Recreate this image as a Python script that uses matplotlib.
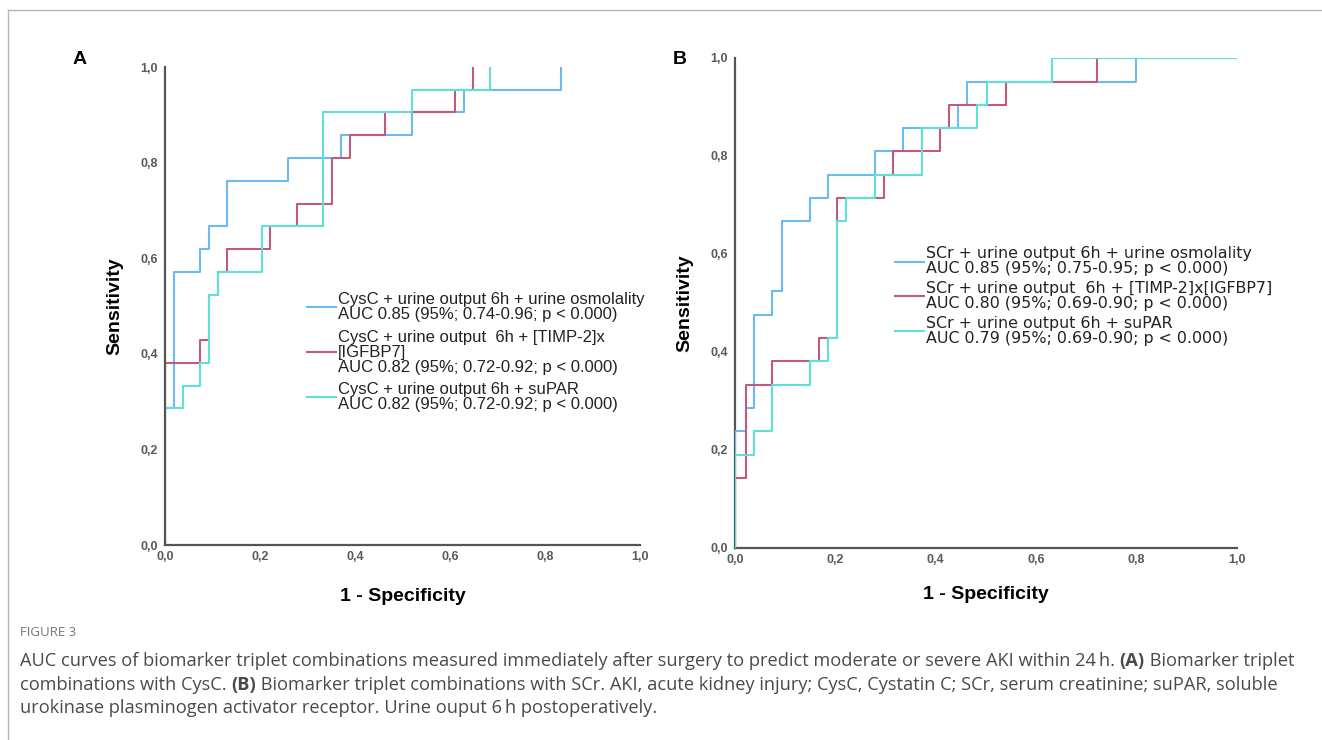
import matplotlib
matplotlib.use("Agg")
import matplotlib.pyplot as plt
from matplotlib.lines import Line2D

# ROC corner points (1 - specificity, sensitivity)
# panel A - CysC combinations
a_osm_x = [0, 0, 0.019, 0.074, 0.093, 0.130, 0.259, 0.370, 0.519, 0.630, 0.833]
a_osm_y = [0, 0.286, 0.571, 0.619, 0.667, 0.762, 0.810, 0.857, 0.905, 0.952, 1.0]
a_timp_x = [0, 0, 0.074, 0.093, 0.111, 0.130, 0.222, 0.278, 0.352, 0.389, 0.463, 0.611, 0.648]
a_timp_y = [0, 0.381, 0.429, 0.524, 0.571, 0.619, 0.667, 0.714, 0.810, 0.857, 0.905, 0.952, 1.0]
a_supar_x = [0, 0, 0.037, 0.074, 0.093, 0.111, 0.204, 0.333, 0.519, 0.685]
a_supar_y = [0, 0.286, 0.333, 0.381, 0.524, 0.571, 0.667, 0.905, 0.952, 1.0]

# panel B - SCr combinations
b_osm_x = [0, 0, 0.021, 0.037, 0.073, 0.094, 0.149, 0.186, 0.279, 0.334, 0.445, 0.463, 0.799, 1.0]
b_osm_y = [0, 0.238, 0.286, 0.476, 0.524, 0.667, 0.714, 0.762, 0.810, 0.857, 0.905, 0.952, 1.0, 1.0]
b_timp_x = [0, 0, 0.021, 0.073, 0.168, 0.203, 0.297, 0.315, 0.408, 0.427, 0.540, 0.722, 1.0]
b_timp_y = [0, 0.143, 0.333, 0.381, 0.429, 0.714, 0.762, 0.810, 0.857, 0.905, 0.952, 1.0, 1.0]
b_supar_x = [0, 0, 0.037, 0.073, 0.149, 0.185, 0.203, 0.222, 0.279, 0.372, 0.483, 0.501, 0.631, 1.0]
b_supar_y = [0, 0.190, 0.238, 0.333, 0.381, 0.429, 0.667, 0.714, 0.762, 0.857, 0.905, 0.952, 1.0, 1.0]

a_labels = ["CysC + urine output 6h + urine osmolality\nAUC 0.85 (95%; 0.74-0.96; p < 0.000)",
            "CysC + urine output  6h + [TIMP-2]x\n[IGFBP7]\nAUC 0.82 (95%; 0.72-0.92; p < 0.000)",
            "CysC + urine output 6h + suPAR\nAUC 0.82 (95%; 0.72-0.92; p < 0.000)"]
b_labels = ["SCr + urine output 6h + urine osmolality\nAUC 0.85 (95%; 0.75-0.95; p < 0.000)",
            "SCr + urine output  6h + [TIMP-2]x[IGFBP7]\nAUC 0.80 (95%; 0.69-0.90; p < 0.000)",
            "SCr + urine output 6h + suPAR\nAUC 0.79 (95%; 0.69-0.90; p < 0.000)"]

ticks = [0, 0.2, 0.4, 0.6, 0.8, 1.0]
tick_labels = ["0,0", "0,2", "0,4", "0,6", "0,8", "1,0"]

colors = ["#6cbaf2", "#c25a80", "#5fe0d8"]

fig = plt.figure(figsize=(13.22, 7.40), dpi=100)

# figure frame (top + left edge)
fig.add_artist(Line2D([8/1322, 1.0], [1-10/740, 1-10/740], color="#b5b5b5", lw=1))
fig.add_artist(Line2D([8/1322, 8/1322], [0, 1-10/740], color="#b5b5b5", lw=1))

axA = fig.add_axes([165/1322, 1-545/740, 475/1322, 478/740])
axB = fig.add_axes([735/1322, 1-548/740, 502/1322, 490/740])

# ax, curves, labels, legend font, size, anchor, handle length, label spacing, xlabel pad, spine zorder
panels = [
    (axA, [(a_osm_x, a_osm_y), (a_timp_x, a_timp_y), (a_supar_x, a_supar_y)], a_labels,
     "Liberation Sans", 12, (0.298, 0.529), 1.75, 0.45, 18, 2.5),
    (axB, [(b_osm_x, b_osm_y), (b_timp_x, b_timp_y), (b_supar_x, b_supar_y)], b_labels,
     "DejaVu Sans", 11.4, (0.318, 0.616), 1.85, 0.3, 15, 1.5),
]

for ax, curves, labels, lfont, lsize, lpos, hl, lsp, xpad, spine_z in panels:
    for (x, y), c, lab in zip(curves, colors, labels):
        ax.plot(x, y, drawstyle="steps-post", color=c, lw=1.5, label=lab, zorder=2)
    ax.set_xlim(0, 1)
    ax.set_ylim(0, 1)
    for s in ["top", "right"]:
        ax.spines[s].set_visible(False)
    for s in ["left", "bottom"]:
        ax.spines[s].set_color("#555555")
        ax.spines[s].set_linewidth(1.6)
        ax.spines[s].set_zorder(spine_z)
    ax.set_xticks(ticks)
    ax.set_xticklabels(tick_labels)
    ax.set_yticks(ticks)
    ax.set_yticklabels(tick_labels)
    ax.tick_params(length=0, labelsize=9, labelcolor="#5a5a5a")
    ax.tick_params(axis="x", pad=4)
    ax.tick_params(axis="y", pad=5)
    for t in ax.get_xticklabels() + ax.get_yticklabels():
        t.set_fontweight("bold")
        t.set_family("Liberation Sans")
    ax.set_xlabel("1 - Specificity", fontsize=14, fontweight="bold", family="Liberation Sans", labelpad=xpad)
    ax.set_ylabel("Sensitivity", fontsize=14, fontweight="bold", family="Liberation Sans", labelpad=12)
    leg = ax.legend(loc="upper left", bbox_to_anchor=lpos, frameon=False,
                    prop={"family": lfont, "size": lsize}, handlelength=hl,
                    handletextpad=0.15, labelspacing=lsp, borderpad=0, borderaxespad=0)
    for t in leg.get_texts():
        t.set_linespacing(1.0)
        t.set_color("#222222")

fig.text(80/1322, 1-60/740, "A", fontsize=14, fontweight="bold", family="Liberation Sans", va="center", ha="center")
fig.text(680/1322, 1-60/740, "B", fontsize=14, fontweight="bold", family="Liberation Sans", va="center", ha="center")

# caption
fig.text(20/1322, 1-633/740, "FIGURE 3", fontsize=9.5, color="#777777", family="Open Sans", va="center")

caption = [
    [("AUC curves of biomarker triplet combinations measured immediately after surgery to predict moderate or severe AKI within 24\u2009h. ", False),
     ("(A)", True), (" Biomarker triplet", False)],
    [("combinations with CysC. ", False), ("(B)", True),
     (" Biomarker triplet combinations with SCr. AKI, acute kidney injury; CysC, Cystatin C; SCr, serum creatinine; suPAR, soluble", False)],
    [("urokinase plasminogen activator receptor. Urine ouput 6\u2009h postoperatively.", False)],
]
line_y = [661, 685, 708]

renderer = fig.canvas.get_renderer()
for parts, yy in zip(caption, line_y):
    x = 20/1322
    for txt, bold in parts:
        t = fig.text(x, 1-yy/740, txt, fontsize=13.15, color="#4a4a4a", family=["Open Sans", "DejaVu Sans"],
                     fontweight="bold" if bold else "normal", va="center")
        x += t.get_window_extent(renderer).width / fig.bbox.width

fig.savefig("out.png", dpi=100)
